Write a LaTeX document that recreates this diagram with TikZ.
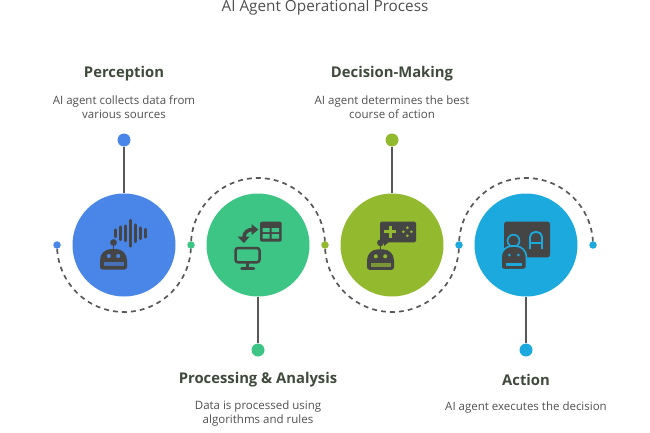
\documentclass[tikz,border=0pt]{standalone}
\usepackage{fontspec}
\setmainfont{Open Sans}
\usetikzlibrary{positioning,backgrounds}
\definecolor{percblue}{HTML}{4A86E8}
\definecolor{procgreen}{HTML}{3DC585}
\definecolor{deciolive}{HTML}{93B92F}
\definecolor{actcyan}{HTML}{1CA9DE}
\definecolor{icondark}{HTML}{454545}
\definecolor{headdark}{HTML}{3F4A3C}
\definecolor{textgray}{HTML}{4F4F4F}
% robot head, #1 #2 = middle of the head top, #3 = colour behind it
\newcommand{\robothead}[3]{
  \fill[icondark] (#1-13.5,#2+20.5) [rounded corners=2.5pt] -- (#1+13.5,#2+20.5) [rounded corners=11pt] -- (#1+13.5,#2) -- (#1-13.5,#2) [rounded corners=2.5pt] -- cycle;
  \fill[icondark] (#1,#2-6.5) circle (3.4);
  \draw[icondark, line width=1.6pt] (#1,#2-5) -- (#1,#2+1);
  \fill[#3] (#1-4.7,#2+7) circle (2) (#1+4.7,#2+7) circle (2);
  \fill[#3, opacity=.7] (#1-10,#2+13.3) rectangle (#1+10,#2+17.3);
}
\begin{document}
\begin{tikzpicture}[x=1pt,y=-1pt,node distance=134pt,semithick]
  \tikzstyle{bigdisc}=[circle, draw=none, minimum size=103pt, inner sep=0pt]
  \tikzstyle{enddot}=[circle, draw=none, minimum size=13pt, inner sep=0pt]
  \tikzstyle{smalldot}=[circle, draw=none, minimum size=7.5pt, inner sep=0pt]
  \tikzstyle{stem}=[draw=icondark!90, line width=1.5pt]
  \tikzstyle{dashline}=[draw=icondark!90, line width=1.7pt, dash pattern=on 4.8pt off 4.2pt, dash phase=4.8pt]
  \tikzstyle{heading}=[font=\fontsize{14.8}{18}\selectfont\bfseries, text=headdark, inner sep=0pt]
  \tikzstyle{blurb}=[font=\fontsize{11.5}{14.4}\selectfont, text=textgray, align=center, inner sep=0pt]
  \useasboundingbox (0,0) rectangle (650,433);

  \node[font=\fontsize{15.3}{18}\selectfont, text=textgray, inner sep=0pt] (title) at (325,8) {AI Agent Operational Process};

  \node[bigdisc, fill=percblue]  (perception) at (124,245) {};
  \node[bigdisc, fill=procgreen] (processing) [right of=perception] {};
  \node[bigdisc, fill=deciolive] (decision)   [right of=processing] {};
  \node[bigdisc, fill=actcyan]   (action)     [right of=decision] {};

  \node[enddot, fill=percblue]  (perceptiondot) [above of=perception, node distance=105pt] {};
  \node[enddot, fill=procgreen] (processingdot) [below of=processing, node distance=105pt] {};
  \node[enddot, fill=deciolive] (decisiondot)   [above of=decision, node distance=105pt] {};
  \node[enddot, fill=actcyan]   (actiondot)     [below of=action, node distance=105pt] {};

  \node[smalldot, fill=percblue]  (dot1) [left of=perception, node distance=67pt] {};
  \node[smalldot, fill=procgreen] (dot2) [right of=perception, node distance=67pt] {};
  \node[smalldot, fill=deciolive] (dot3) [right of=processing, node distance=67pt] {};
  \node[smalldot, fill=actcyan]   (dot4) [right of=decision, node distance=67pt] {};
  \node[smalldot, fill=actcyan]   (dot5) [right of=action, node distance=67pt] {};

  \begin{scope}[on background layer]
    \draw[stem] (perceptiondot) -- (perception);
    \draw[stem] (processingdot) -- (processing);
    \draw[stem] (decisiondot) -- (decision);
    \draw[stem] (actiondot) -- (action);
    \draw[dashline] (dot1.center) arc[start angle=180, end angle=0, radius=67];
    \draw[dashline] (dot2.center) arc[start angle=180, end angle=360, radius=67];
    \draw[dashline] (dot3.center) arc[start angle=180, end angle=0, radius=67];
    \draw[dashline] (dot4.center) arc[start angle=180, end angle=360, radius=67];
  \end{scope}

  \node[blurb] (perceptiontext) [above of=perceptiondot, node distance=33pt] {AI agent collects data from\\various sources};
  \node[heading] (perceptionhead) [above of=perceptiontext, node distance=33.5pt] {Perception};
  \node[blurb] (decisiontext) [above of=decisiondot, node distance=33pt] {AI agent determines the best\\course of action};
  \node[heading] (decisionhead) [above of=decisiontext, node distance=33.5pt] {Decision-Making};
  \node[heading] (processinghead) [below of=processingdot, node distance=29.5pt] {Processing \& Analysis};
  \node[blurb] (processingtext) [below of=processinghead, node distance=34pt] {Data is processed using\\algorithms and rules};
  \node[heading] (actionhead) [below of=actiondot, node distance=29.5pt] {Action};
  \node[blurb] (actiontext) [below of=actionhead, node distance=28pt] {AI agent executes the decision};

  % perception icon
  \robothead{113.5}{249}{percblue}
  \foreach \bx/\bh in {115.3/7,120.3/13,125.3/15,130.3/26,135.3/17,140.3/11,145.3/8}
    \draw[icondark, line width=2.8pt, line cap=round] (\bx,233.3-\bh/2) -- (\bx,233.3+\bh/2);

  % processing icon
  \fill[icondark, rounded corners=2pt] (260,221.7) rectangle (281.7,241.7);
  \fill[procgreen] (262.5,228) rectangle (269.5,232) (271.5,228) rectangle (279,232)
    (262.5,234) rectangle (269.5,238.5) (271.5,234) rectangle (279,238.5);
  \draw[icondark, line width=3.6pt] (253,229.5) .. controls (248,229.5) and (244,232) .. (244,237.5);
  \fill[icondark] (251.7,224.3) -- (258.3,229.5) -- (251.7,235) -- cycle;
  \fill[icondark] (237.3,236.5) -- (249.7,236.5) -- (244,243) -- cycle;
  \draw[icondark, line width=2.5pt, rounded corners=2.5pt] (235.5,248) rectangle (259.5,262.3);
  \draw[icondark, line width=2.5pt] (247.5,262.3) -- (247.5,268);
  \draw[icondark, line width=2.5pt, line cap=round] (241.5,268.3) -- (254,268.3);

  % decision icon
  \fill[icondark, rounded corners=1.5pt] (380,221.7) rectangle (416,242.3);
  \fill[icondark] (384,241) -- (384,246) -- (390,241) -- cycle;
  \robothead{380.5}{249.3}{deciolive}
  \draw[deciolive, line width=3pt] (384.3,231.7) -- (396.3,231.7) (390.3,225.7) -- (390.3,237.7);
  \fill[deciolive] (407.3,227.7) circle (1.5) (407.3,235.7) circle (1.5) (403.3,231.7) circle (1.5) (411.3,231.7) circle (1.5);

  % action icon
  \fill[icondark, rounded corners=2.5pt] (504,221.7) rectangle (550,257.3);
  \draw[actcyan, line width=1.8pt, rounded corners=5pt] (530,249) -- (530,232) -- (542,232) -- (542,249);
  \draw[actcyan, line width=1.8pt] (530,243) -- (542,243);
  \filldraw[fill=icondark, draw=actcyan, line width=1.6pt] (513.5,240.7) circle (6);
  \filldraw[fill=icondark, draw=actcyan, line width=1.6pt, rounded corners=3pt] (501,269.7) -- (526.5,269.7) [rounded corners=11pt] -- (526.5,246) -- (501,246) [rounded corners=3pt] -- cycle;
  \fill[actcyan] (509.3,255) circle (1.5) (518.3,255) circle (1.5);
  \fill[actcyan] (506,263.3) rectangle (521.7,265.5);
\end{tikzpicture}
\end{document}
